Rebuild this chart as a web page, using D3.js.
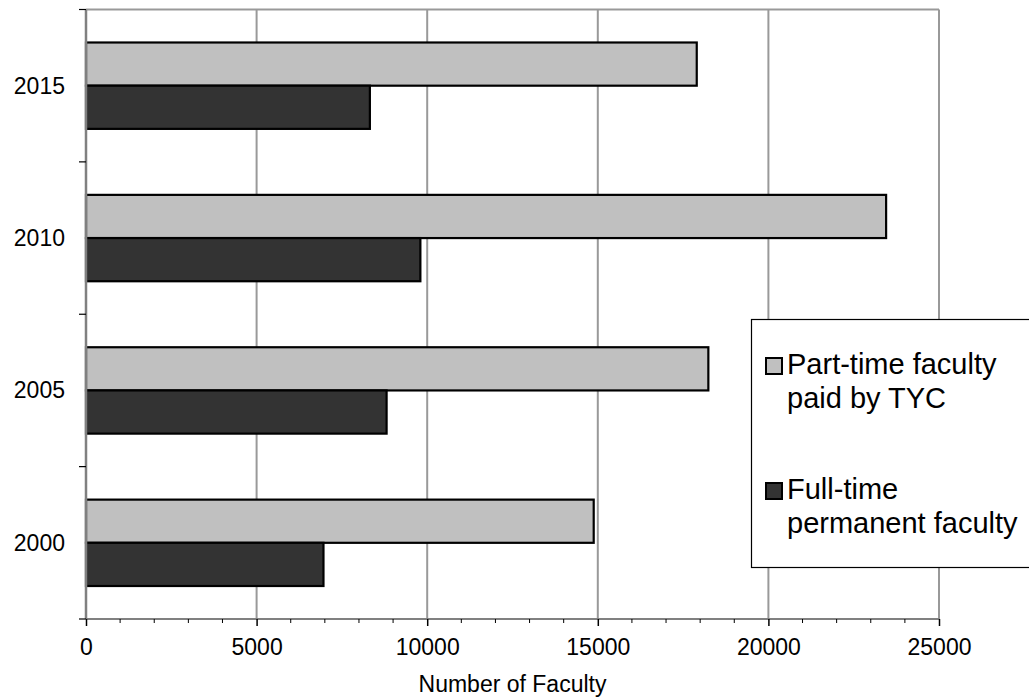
<!DOCTYPE html>
<html>
<head>
<meta charset="utf-8">
<script src="https://cdn.jsdelivr.net/npm/d3@7"></script>
<style>
  html, body { margin: 0; padding: 0; background: #fff; }
  svg { display: block; font-family: "Liberation Sans", Arial, sans-serif; }
</style>
</head>
<body>
<svg id="chart" width="1029" height="698"></svg>
<script>
// Faculty counts by survey year
const years = ["2015", "2010", "2005", "2000"];
const partTime = [17900, 23450, 18240, 14880];   // Part-time faculty paid by TYC
const fullTime = [8320, 9800, 8810, 6960];       // Full-time permanent faculty
const xTicks = [0, 5000, 10000, 15000, 20000, 25000];
const seriesKeys = ["part", "full"];
const seriesLabels = [["Part-time faculty", "paid by TYC"], ["Full-time", "permanent faculty"]];
const seriesColors = ["#c0c0c0", "#333333"];

const svg = d3.select("#chart");
const plotLeft = 86, plotRight = 939, plotTop = 9.5, plotBottom = 619;

const x = d3.scaleLinear().domain([0, 25000]).range([plotLeft, plotRight]);
const y = d3.scaleBand().domain(years).range([plotTop, plotBottom]).padding(0);
const ySub = d3.scaleBand().domain(seriesKeys).range([0, y.bandwidth()])
  .paddingInner(0).paddingOuter(0.764);

const rows = years.map((yr, i) => ({ year: yr, part: partTime[i], full: fullTime[i] }));

// Vertical gridlines
svg.append("g").selectAll("line")
  .data(xTicks.slice(1))
  .join("line")
  .attr("x1", d => x(d)).attr("x2", d => x(d))
  .attr("y1", plotTop).attr("y2", plotBottom)
  .attr("stroke", "#999").attr("stroke-width", 2);

// Top border of the plot
svg.append("line")
  .attr("x1", plotLeft).attr("x2", plotRight).attr("y1", plotTop).attr("y2", plotTop)
  .attr("stroke", "#999").attr("stroke-width", 2);

// Bars
const groups = svg.append("g").selectAll("g")
  .data(rows).join("g")
  .attr("transform", d => `translate(0,${y(d.year)})`);

seriesKeys.forEach((k, si) => {
  groups.append("rect")
    .attr("x", x(0))
    .attr("y", ySub(k))
    .attr("width", d => x(d[k]) - x(0))
    .attr("height", ySub.bandwidth())
    .attr("fill", seriesColors[si])
    .attr("stroke", "#000")
    .attr("stroke-width", 2.2);
});

// X axis with minor ticks every 1000
const xAxisG = svg.append("g").attr("transform", `translate(0,${plotBottom})`);
xAxisG.append("line")
  .attr("x1", plotLeft).attr("x2", plotRight)
  .attr("stroke", "#808080").attr("stroke-width", 2);
xAxisG.selectAll("line.minor")
  .data(d3.range(0, 25001, 1000).filter(v => v % 5000 !== 0))
  .join("line").attr("class", "minor")
  .attr("x1", d => x(d)).attr("x2", d => x(d))
  .attr("y1", 0).attr("y2", 4)
  .attr("stroke", "#000").attr("stroke-width", 1);
const xAxis = d3.axisBottom(x).tickValues(xTicks).tickSize(7).tickPadding(13)
  .tickFormat(d3.format("d"));
const xa = xAxisG.append("g").call(xAxis);
xa.select(".domain").remove();
xa.selectAll(".tick line").attr("stroke", "#000").attr("stroke-width", 1.5);
xa.selectAll(".tick text")
  .attr("font-size", 23).attr("fill", "#000")
  .attr("font-family", "Liberation Sans, Arial, sans-serif");

// Y axis: ticks at category boundaries, labels centred in each band
svg.append("line")
  .attr("x1", plotLeft).attr("x2", plotLeft).attr("y1", plotTop).attr("y2", plotBottom)
  .attr("stroke", "#808080").attr("stroke-width", 2.5);
const boundaries = years.map(yr => y(yr)).concat([plotBottom]);
svg.append("g").selectAll("line")
  .data(boundaries).join("line")
  .attr("x1", plotLeft - 7).attr("x2", plotLeft)
  .attr("y1", d => d).attr("y2", d => d)
  .attr("stroke", "#000").attr("stroke-width", 1.2);
svg.append("g").selectAll("text")
  .data(years).join("text")
  .attr("x", 65)
  .attr("y", d => y(d) + y.bandwidth() / 2)
  .attr("dy", "0.35em")
  .attr("text-anchor", "end")
  .attr("font-size", 23)
  .attr("fill", "#000")
  .text(d => d);

// X axis title
svg.append("text")
  .attr("x", (plotLeft + plotRight) / 2)
  .attr("y", 692)
  .attr("text-anchor", "middle")
  .attr("font-size", 23)
  .attr("fill", "#000")
  .text("Number of Faculty");

// Legend
const legend = svg.append("g");
legend.append("rect")
  .attr("x", 751.5).attr("y", 319.5)
  .attr("width", 300).attr("height", 248)
  .attr("fill", "#fff").attr("stroke", "#000").attr("stroke-width", 1.2);
const legendTop = [358, 483];
seriesKeys.forEach((k, si) => {
  legend.append("rect")
    .attr("x", 766).attr("y", legendTop[si])
    .attr("width", 16).attr("height", 16)
    .attr("fill", seriesColors[si])
    .attr("stroke", "#000").attr("stroke-width", 2);
  seriesLabels[si].forEach((line, li) => {
    legend.append("text")
      .attr("x", 787)
      .attr("y", legendTop[si] + 16 + li * 34)
      .attr("font-size", 29)
      .attr("fill", "#000")
      .text(line);
  });
});
</script>
</body>
</html>
